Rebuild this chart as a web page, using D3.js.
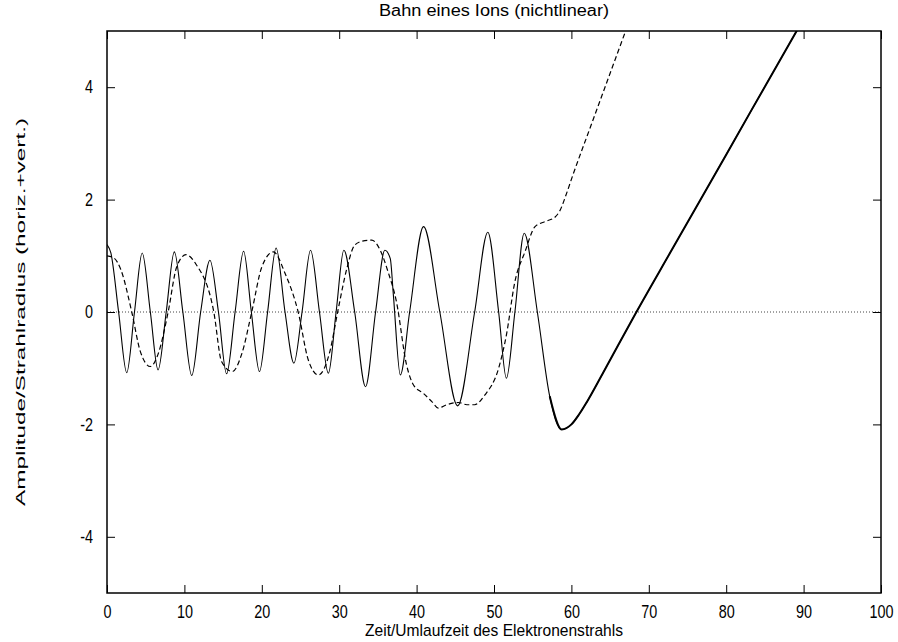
<!DOCTYPE html>
<html><head><meta charset="utf-8">
<script src="https://cdn.jsdelivr.net/npm/d3@7"></script>
<style>html,body{margin:0;padding:0;background:#fff;}</style>
</head><body>
<svg id="chart" width="898" height="642"></svg>
<script>
const titleText = "Bahn eines Ions (nichtlinear)";
const xLabelText = "Zeit/Umlaufzeit des Elektronenstrahls";
const yLabelText = "Amplitude/Strahlradius (horiz.+vert.)";
const xTicks = [0,10,20,30,40,50,60,70,80,90,100];
const yTicks = [-4,-2,0,2,4];

// horizontal amplitude (solid)
const horizT = [0,0.5,1.5,2.55,3.55,4.55,5.6,6.6,7.65,8.7,9.8,10.95,12.1,13.3,14.4,15.45,16.55,17.65,18.65,19.7,20.75,21.85,23.0,24.15,25.2,26.3,27.45,28.6,29.6,30.6,32.0,33.4,34.7,35.9,36.6,37.0,37.9,39.1,40.9,43.0,45.3,47.5,49.2,50.6,51.6,52.7,53.9,55.6,57.2,58.75,60.0,61.0,62.0,64.1,68.4,72.7,80.0,89.1,91];
const horizV = [1.20,1.05,0,-1.08,0,1.05,0,-1.03,0,1.07,0,-1.13,0,0.92,0,-1.10,0,1.08,0,-1.06,0,1.14,0,-0.91,0,1.10,0,-1.09,0,1.10,0,-1.33,0,1.10,0.95,0.3,-1.12,0,1.52,0,-1.67,0,1.42,0,-1.18,0,1.40,0,-1.5,-2.09,-2.0,-1.82,-1.6,-1.08,0,1.04,2.8,5.0,5.45];

// vertical amplitude (dashed)
const vertT = [0,0.9,1.8,3.2,4.3,5.6,6.6,7.9,9.0,10.2,11.5,13.8,14.8,16.2,17.4,18.7,20.0,21.5,23.0,24.7,26.0,27.3,28.8,29.8,31.0,32.0,33.0,34.2,35.3,36.3,37.4,38.7,39.6,40.9,42.0,42.8,43.9,45.4,46.5,47.5,48.8,50.6,51.6,52.7,54.0,55.3,56.6,57.9,58.5,59.4,60.2,62.4,64.5,67.0,68.0];
const vertV = [1.00,0.96,0.75,0,-0.7,-0.97,-0.75,0,0.8,1.02,0.85,0,-0.88,-1.06,-0.75,0,0.8,1.07,0.69,0,-0.85,-1.12,-0.70,0,0.78,1.19,1.26,1.28,1.10,0.72,0.18,-0.94,-1.30,-1.45,-1.6,-1.71,-1.65,-1.61,-1.65,-1.65,-1.48,-1.0,-0.41,0.54,1.07,1.52,1.61,1.69,1.8,2.12,2.44,3.27,4.06,5.0,5.38];

const svg = d3.select("#chart");
const L = 107, R = 881, T = 31, B = 593;
const x = d3.scaleLinear().domain([0,100]).range([L,R]);
const y = d3.scaleLinear().domain([-5,5]).range([B,T]);
const font = "'Liberation Sans', Arial, Helvetica, sans-serif";
const sx = 0.8; // horizontal compression of glyphs

svg.append("defs").append("clipPath").attr("id","clip")
  .append("rect").attr("x",L).attr("y",T).attr("width",R-L).attr("height",B-T);

// zero line
svg.append("line").attr("x1",x(0)).attr("x2",x(100)).attr("y1",y(0)).attr("y2",y(0))
  .attr("stroke","#444").attr("stroke-width",1).attr("stroke-dasharray","1,2");

const horiz = horizT.map((t,i)=>({t, v:horizV[i]}));
const vert = vertT.map((t,i)=>({t, v:vertV[i]}));
const line = d3.line().x(d=>x(d.t)).y(d=>y(d.v)).curve(d3.curveMonotoneX);

const g = svg.append("g").attr("clip-path","url(#clip)");
g.append("path").datum(vert).attr("d",line).attr("fill","none")
  .attr("stroke","#000").attr("stroke-width",1.2).attr("stroke-dasharray","5,3");
g.append("path").datum(horiz).attr("d",line).attr("fill","none")
  .attr("stroke","#000").attr("stroke-width",1.1);
g.append("path").datum(horiz.filter(d=>d.t>=57.2)).attr("d",line).attr("fill","none")
  .attr("stroke","#000").attr("stroke-width",2);

// axes (ticks inward)
function styleAxis(sel){
  sel.select(".domain").remove();
  sel.selectAll("line").attr("stroke","#000").attr("stroke-width",1);
  sel.selectAll("text").attr("font-family",font).attr("font-size",18).attr("fill","#000");
}
const fmt = d => String(d);
const bx = svg.append("g").attr("transform",`translate(0,${B})`)
  .call(d3.axisBottom(x).tickValues(xTicks).tickSize(-8).tickPadding(12).tickFormat(fmt)).call(styleAxis);
bx.selectAll("text").attr("transform",`scale(${sx},1)`);
svg.append("g").attr("transform",`translate(0,${T})`)
  .call(d3.axisTop(x).tickValues(xTicks).tickSize(-8).tickFormat("")).call(styleAxis);
const ly = svg.append("g").attr("transform",`translate(${L},0)`)
  .call(d3.axisLeft(y).tickValues(yTicks).tickSize(-8).tickFormat(fmt)).call(styleAxis);
ly.selectAll("text").attr("x",-14/sx).attr("transform",`scale(${sx},1)`);
svg.append("g").attr("transform",`translate(${R},0)`)
  .call(d3.axisRight(y).tickValues(yTicks).tickSize(-8).tickFormat("")).call(styleAxis);

svg.append("rect").attr("x",L).attr("y",T).attr("width",R-L).attr("height",B-T)
  .attr("fill","none").attr("stroke","#000").attr("stroke-width",1.5);

svg.append("text").attr("x",(L+R)/2).attr("y",16).attr("text-anchor","middle")
  .attr("font-family",font).attr("font-size",16).attr("textLength",230).attr("lengthAdjust","spacingAndGlyphs")
  .text(titleText);
svg.append("text").attr("x",(L+R)/2).attr("y",636).attr("text-anchor","middle")
  .attr("font-family",font).attr("font-size",17).attr("textLength",258).attr("lengthAdjust","spacingAndGlyphs")
  .text(xLabelText);
svg.append("text").attr("transform",`translate(25,312) rotate(-90)`).attr("text-anchor","middle")
  .attr("font-family",font).attr("font-size",13.5).attr("textLength",388).attr("lengthAdjust","spacingAndGlyphs")
  .text(yLabelText);
</script>
</body></html>
